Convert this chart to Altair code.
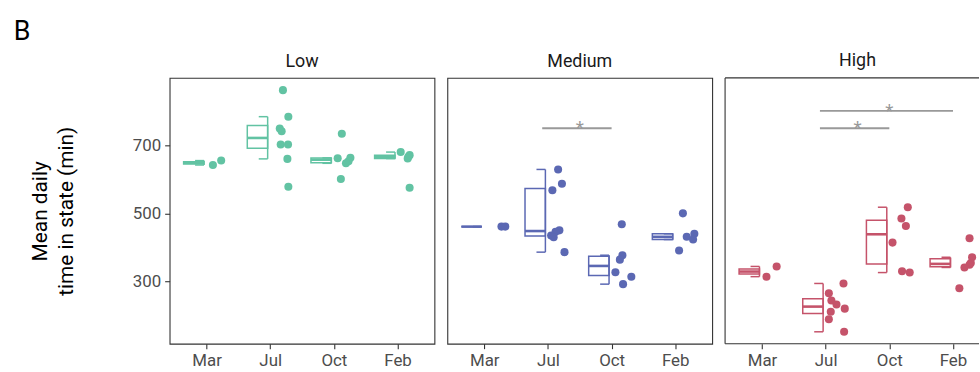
import json
import altair as alt
import pandas as pd
import numpy as np

months = ["Mar", "Jul", "Oct", "Feb"]
groups = ["Low", "Medium", "High"]
colors = ["#62C3A3", "#5B68B3", "#C5536A"]

# ---- data ----
low_month = ["Mar", "Mar",
             "Jul", "Jul", "Jul", "Jul", "Jul", "Jul", "Jul", "Jul",
             "Oct", "Oct", "Oct", "Oct", "Oct", "Oct",
             "Feb", "Feb", "Feb", "Feb", "Feb"]
low_value = [642, 655,
             862, 784, 749, 741, 702, 702, 660, 578,
             734, 662, 663, 653, 647, 601,
             680, 671, 666, 661, 575]
low_jitter = [0.10, 0.23,
              0.20, 0.285, 0.15, 0.18, 0.165, 0.28, 0.27, 0.285,
              0.125, 0.06, 0.26, 0.23, 0.19, 0.11,
              0.05, 0.19, 0.17, 0.16, 0.19]

med_month = ["Mar", "Mar",
             "Jul", "Jul", "Jul", "Jul", "Jul", "Jul", "Jul", "Jul",
             "Oct", "Oct", "Oct", "Oct", "Oct", "Oct",
             "Feb", "Feb", "Feb", "Feb", "Feb"]
med_value = [461, 461,
             629, 587, 568, 450, 446, 435, 430, 386,
             468, 377, 364, 327, 314, 292,
             500, 431, 440, 423, 391]
med_jitter = [0.27, 0.33,
              0.16, 0.22, 0.07, 0.18, 0.12, 0.05, 0.09, 0.26,
              0.16, 0.17, 0.13, 0.06, 0.31, 0.18,
              0.12, 0.18, 0.30, 0.28, 0.06]

high_month = ["Mar", "Mar",
              "Jul", "Jul", "Jul", "Jul", "Jul", "Jul", "Jul", "Jul",
              "Oct", "Oct", "Oct", "Oct", "Oct", "Oct",
              "Feb", "Feb", "Feb", "Feb", "Feb", "Feb"]
high_value = [314, 344,
              294, 265, 244, 232, 220, 211, 189, 152,
              518, 485, 463, 414, 330, 326,
              427, 371, 354, 349, 341, 280]
high_jitter = [0.07, 0.23,
               0.28, 0.05, 0.09, 0.17, 0.30, 0.08, 0.05, 0.29,
               0.29, 0.19, 0.26, 0.05, 0.20, 0.32,
               0.26, 0.30, 0.28, 0.26, 0.18, 0.10]

sig_group = ["Medium", "High", "High"]
sig_from = ["Jul", "Jul", "Jul"]
sig_to = ["Oct", "Oct", "Feb"]
sig_y = [750, 750, 801]
sig_label = ["*", "*", "*"]

y_ticks = [300, 500, 700]

# ---- tables ----
frames = []
for g, m, v, j in [("Low", low_month, low_value, low_jitter),
                   ("Medium", med_month, med_value, med_jitter),
                   ("High", high_month, high_value, high_jitter)]:
    d = pd.DataFrame({"month": m, "value": v, "jit": j})
    d["group"] = g
    frames.append(d)
pts = pd.concat(frames, ignore_index=True)
pts["idx"] = pts["month"].map({m: i + 1 for i, m in enumerate(months)})
pts["px"] = pts["idx"] + pts["jit"]

rows = []
for (g, m), d in pts.groupby(["group", "month"]):
    v = d["value"].to_numpy(dtype=float)
    q1, med, q3 = np.percentile(v, [25, 50, 75])
    iqr = q3 - q1
    lo = v[v >= q1 - 1.5 * iqr].min()
    hi = v[v <= q3 + 1.5 * iqr].max()
    idx = months.index(m) + 1
    rows.append(dict(group=g, month=m, q1=q1, median=med, q3=q3, lo=lo, hi=hi,
                     bx1=idx - 0.36, bx2=idx - 0.04, cx1=idx - 0.18))
stats = pd.DataFrame(rows)

sig = pd.DataFrame({"group": sig_group, "a": sig_from, "b": sig_to,
                    "sy": sig_y, "label": sig_label})
sig["ia"] = sig["a"].map({m: i + 1 for i, m in enumerate(months)})
sig["ib"] = sig["b"].map({m: i + 1 for i, m in enumerate(months)})
sig["sx1"] = sig["ia"] - 0.09
sig["sx2"] = sig["ib"]
sig["smid"] = (sig["ia"] + sig["ib"]) / 2

FONT = "Roboto"
PW, PH = 267, 268          # full panel size
X0, X1 = 0.42, 4.58        # x domain of a full panel
PPU = PW / (X1 - X0)       # pixels per x unit
LAST_W = 256               # last panel is cut by the window edge
yscale = alt.Scale(domain=[117, 898], nice=False, zero=False)
label_expr = json.dumps(months) + "[datum.value - 1]"
xaxis = alt.Axis(values=[1, 2, 3, 4], labelExpr=label_expr, title=None, grid=False,
                 domain=False, tickSize=5, tickColor="#333333", tickWidth=1.1,
                 labelFontSize=17, labelColor="#4d4d4d", labelFont=FONT, labelPadding=4)
yaxis_first = alt.Axis(values=y_ticks, title=["Mean daily", "time in state (min)"],
                       grid=False, domain=False, tickSize=5, tickColor="#333333",
                       tickWidth=1.1, labelFontSize=17, labelColor="#4d4d4d",
                       labelFont=FONT, labelPadding=4, titleFont=FONT,
                       titleFontSize=21, titleFontWeight="normal", titleColor="#000000",
                       titleLineHeight=26, titlePadding=56)


def panel(gi, g):
    c = colors[gi]
    last = gi == len(groups) - 1
    w = LAST_W if last else PW
    xscale = alt.Scale(domain=[X0, X0 + w / PPU], nice=False, zero=False)
    yax = yaxis_first if gi == 0 else None
    bs = stats[stats.group == g]
    pp = pts[pts.group == g]
    sg = sig[sig.group == g]
    X = lambda f: alt.X(f + ":Q", scale=xscale, axis=xaxis)
    Y = lambda f: alt.Y(f + ":Q", scale=yscale, axis=yax)
    layers = [
        alt.Chart(bs).mark_rect(fill="white", stroke=c, strokeWidth=1.5).encode(
            x=X("bx1"), x2="bx2", y=Y("q1"), y2="q3"),
        alt.Chart(bs).mark_rule(color=c, strokeWidth=2.6).encode(
            x=X("bx1"), x2="bx2", y=Y("median")),
        alt.Chart(bs).mark_rule(color=c, strokeWidth=1.5).encode(
            x=X("bx2"), y=Y("lo"), y2="hi"),
        alt.Chart(bs).mark_rule(color=c, strokeWidth=1.5).encode(
            x=X("cx1"), x2="bx2", y=Y("lo")),
        alt.Chart(bs).mark_rule(color=c, strokeWidth=1.5).encode(
            x=X("cx1"), x2="bx2", y=Y("hi")),
        alt.Chart(pp).mark_circle(size=66, opacity=1, color=c).encode(
            x=X("px"), y=Y("value")),
    ]
    if len(sg):
        layers.append(alt.Chart(sg).mark_rule(color="#999999", strokeWidth=1.8).encode(
            x=X("sx1"), x2="sx2", y=Y("sy")))
        layers.append(alt.Chart(sg).mark_text(color="#999999", fontSize=19, font=FONT,
                                              baseline="alphabetic", align="center",
                                              dy=6).encode(
            x=X("smid"), y=Y("sy"), text="label:N"))
    if last:
        # frame on three sides only: the right side is beyond the window edge
        frame = alt.Chart(pd.DataFrame({"k": [0]})).mark_rule(
            color="#333333", strokeWidth=1.1)
        layers += [
            frame.encode(x=alt.value(0), x2=alt.value(w), y=alt.value(0)),
            frame.encode(x=alt.value(0), x2=alt.value(w), y=alt.value(PH)),
            frame.encode(x=alt.value(0), y=alt.value(0), y2=alt.value(PH)),
        ]
    props = dict(width=w, height=PH,
                 title=alt.TitleParams(g, fontSize=18, fontWeight="normal",
                                       color="#1a1a1a", font=FONT, offset=7,
                                       dx=(PW - w) / 2 if last else 0))
    out = alt.layer(*layers).properties(**props)
    if last:
        out = out.properties(view=alt.ViewBackground(strokeOpacity=0))
    return out


chart = alt.hconcat(*[panel(i, g) for i, g in enumerate(groups)], spacing=11).properties(
    title=alt.TitleParams("B", anchor="start", fontSize=27, fontWeight="normal",
                          font=FONT, color="#000000", offset=8, dx=-16, dy=1),
    padding={"left": 13, "top": 16, "right": 0, "bottom": 0},
).configure(background="white").configure_view(stroke="#333333", strokeWidth=1.1)

chart.save("out.html", embed_options={"renderer": "svg", "actions": False})
